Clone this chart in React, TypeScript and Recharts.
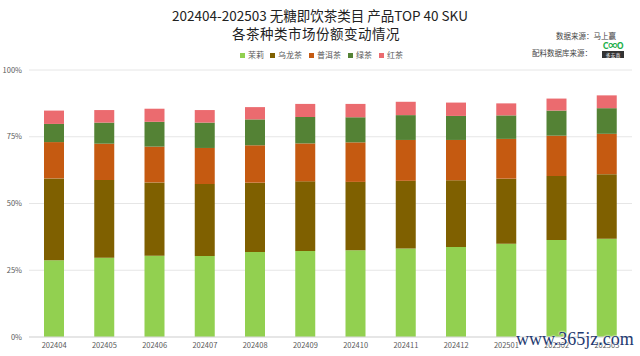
import React from "react";
import { BarChart, Bar, XAxis, YAxis, CartesianGrid } from "recharts";

const months = [
  "202404", "202405", "202406", "202407", "202408", "202409",
  "202410", "202411", "202412", "202501", "202502", "202503",
];
const jasmine = [28.7, 29.7, 30.4, 30.3, 31.8, 32.2, 32.5, 33.1, 33.7, 34.9, 36.3, 36.8];
const oolong = [30.7, 29.1, 27.5, 27.0, 26.0, 26.1, 25.6, 25.4, 25.0, 24.4, 24.0, 24.2];
const puer = [13.6, 13.6, 13.4, 13.5, 14.0, 14.2, 14.8, 15.3, 15.1, 14.9, 15.1, 15.1];
const greenTea = [6.8, 7.9, 9.3, 9.5, 9.7, 9.9, 9.4, 9.3, 9.0, 8.8, 9.4, 9.6];
const blackTea = [5.0, 4.7, 4.9, 4.7, 4.6, 4.9, 5.0, 5.0, 5.0, 4.5, 4.5, 4.8];
const yTicks = [0, 25, 50, 75, 100];

const series = [
  { key: "jasmine", name: "茉莉", color: "#92D050" },
  { key: "oolong", name: "乌龙茶", color: "#7F6000" },
  { key: "puer", name: "普洱茶", color: "#C55A11" },
  { key: "green", name: "绿茶", color: "#548235" },
  { key: "black", name: "红茶", color: "#EB6B6F" },
];

const data = months.map((m, i) => ({
  month: m,
  jasmine: jasmine[i],
  oolong: oolong[i],
  puer: puer[i],
  green: greenTea[i],
  black: blackTea[i],
}));

const font = "'Noto Sans CJK SC', 'Noto Sans', sans-serif";
const legendX = [240, 270, 309, 348, 379];

export default function App() {
  return (
    <div style={{ position: "absolute", left: 0, top: 0, width: 640, height: 356, background: "#fff", fontFamily: font }}>
      <div style={{ position: "absolute", top: 6, left: 0, width: 640, textAlign: "center", fontSize: 13.5, lineHeight: "18px", color: "#222" }}>
        202404-202503 无糖即饮茶类目 产品TOP 40 SKU
      </div>
      <div style={{ position: "absolute", top: 24, left: 0, width: 632, textAlign: "center", fontSize: 13.5, lineHeight: "18px", color: "#222", letterSpacing: 0.5 }}>
        各茶种类市场份额变动情况
      </div>
      {series.map((s, i) => (
        <div key={s.key} style={{ position: "absolute", top: 49, left: legendX[i], display: "flex", alignItems: "center", fontSize: 8, lineHeight: "12px", color: "#595959" }}>
          <span style={{ display: "inline-block", width: 5, height: 5, background: s.color, marginRight: 3 }} />
          {s.name}
        </div>
      ))}
      <div style={{ position: "absolute", top: 30, left: 556, fontSize: 7.5, color: "#444", lineHeight: "12px" }}>数据来源：马上赢</div>
      <div style={{ position: "absolute", top: 47, left: 532, fontSize: 7.5, color: "#444", lineHeight: "12px" }}>配料数据库来源：</div>
      <div style={{ position: "absolute", top: 41, left: 602, width: 22, textAlign: "center" }}>
        <div style={{ fontSize: 9, fontWeight: 700, color: "#22B04B", lineHeight: "9px", letterSpacing: -0.5 }}>C∞O</div>
        <div style={{ fontSize: 5, color: "#fff", background: "#333", lineHeight: "7px", marginTop: 1 }}>多安喜</div>
      </div>
      <BarChart width={640} height={356} data={data} margin={{ top: 70, right: 8, bottom: 0, left: 0 }}>
        <CartesianGrid vertical={false} stroke="#e6e6e6" />
        <XAxis
          dataKey="month"
          height={19}
          tickLine={false}
          tickSize={0}
          tickMargin={6}
          axisLine={{ stroke: "#d9d9d9" }}
          tick={{ fontSize: 7.5, fill: "#595959", fontFamily: font }}
          interval={0}
        />
        <YAxis
          width={29}
          domain={[0, 100]}
          ticks={yTicks}
          tickFormatter={(v: number) => `${v}%`}
          axisLine={false}
          tickLine={false}
          tickSize={0}
          tickMargin={7}
          tick={{ fontSize: 7.5, fill: "#595959", fontFamily: font }}
        />
        {series.map((s) => (
          <Bar key={s.key} dataKey={s.key} name={s.name} stackId="a" fill={s.color} barSize={20} isAnimationActive={false} />
        ))}
      </BarChart>
      <div style={{ position: "absolute", top: 329, left: 516, fontSize: 18, fontFamily: "'Liberation Serif', serif", color: "#1F3A70", textShadow: "0 0 2px #fff, 0 0 2px #fff" }}>
        www.365jz.com
      </div>
    </div>
  );
}
